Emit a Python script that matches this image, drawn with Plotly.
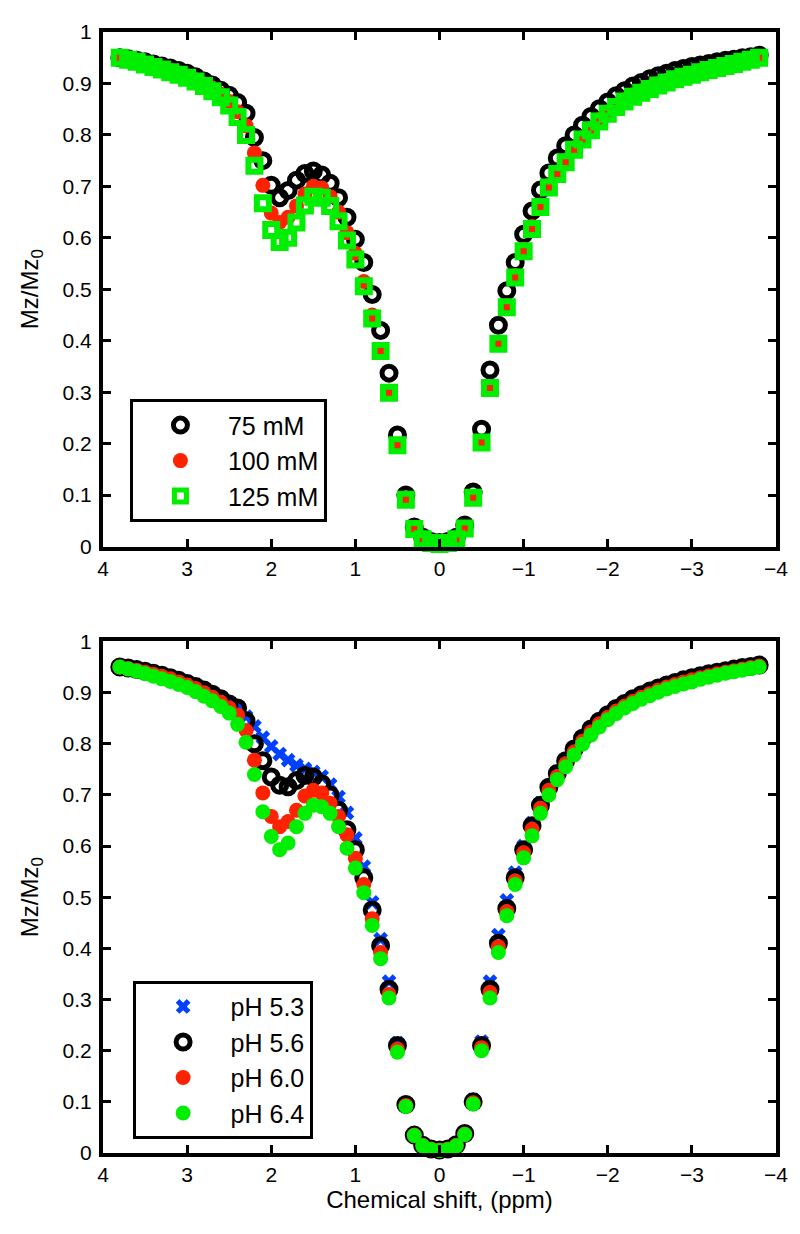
import plotly.graph_objects as go

# Chemical shift grid (ppm)
shift_ppm = [3.8, 3.7, 3.6, 3.5, 3.4, 3.3, 3.2, 3.1, 3.0, 2.9, 2.8, 2.7, 2.6, 2.5, 2.4, 2.3, 2.2, 2.1, 2.0, 1.9,
             1.8, 1.7, 1.6, 1.5, 1.4, 1.3, 1.2, 1.1, 1.0, 0.9, 0.8, 0.7, 0.6, 0.5, 0.4, 0.3, 0.2, 0.1, 0.0, -0.1,
             -0.2, -0.3, -0.4, -0.5, -0.6, -0.7, -0.8, -0.9, -1.0, -1.1, -1.2, -1.3, -1.4, -1.5, -1.6, -1.7, -1.8, -1.9,
             -2.0, -2.1, -2.2, -2.3, -2.4, -2.5, -2.6, -2.7, -2.8, -2.9, -3.0, -3.1, -3.2, -3.3, -3.4, -3.5, -3.6, -3.7, -3.8]

# Top panel: concentration series
mm75 = [.950, .948, .945, .942, .938, .934, .930, .925, .920, .913, .905, .897, .887, .877, .863, .842, .795, .750, .702, .678,
        .692, .712, .725, .730, .722, .706, .678, .640, .597, .552, .490, .420, .337, .217, .100, .038, .018, .010, .008, .010,
        .018, .042, .106, .228, .343, .430, .497, .552, .607, .652, .693, .726, .755, .779, .800, .819, .836, .851,
        .864, .876, .886, .895, .902, .909, .915, .920, .925, .929, .933, .936, .939, .942, .945, .947, .950, .952, .955]
mm100 = [.950, .947, .943, .939, .935, .930, .925, .920, .914, .907, .899, .890, .879, .865, .845, .818, .765, .702, .648, .630,
         .640, .662, .685, .700, .697, .680, .650, .610, .570, .515, .450, .383, .302, .199, .092, .035, .015, .008, .006, .008,
         .015, .036, .097, .204, .310, .397, .468, .527, .578, .622, .664, .702, .728, .751, .775, .795, .813, .830,
         .845, .858, .869, .878, .886, .893, .900, .906, .911, .916, .920, .925, .929, .933, .937, .941, .945, .948, .952]
mm125 = [.950, .946, .942, .937, .932, .927, .922, .917, .911, .904, .895, .885, .873, .857, .835, .800, .740, .667, .615, .592,
         .600, .630, .663, .680, .678, .662, .632, .595, .558, .506, .443, .380, .299, .197, .091, .034, .014, .007, .005, .007,
         .014, .035, .095, .202, .308, .394, .465, .523, .574, .617, .660, .698, .724, .747, .771, .791, .809, .826,
         .841, .854, .865, .874, .882, .889, .896, .902, .908, .913, .917, .922, .926, .930, .934, .938, .942, .946, .950]

# Bottom panel: pH series
ph53 = [.952, .949, .946, .943, .939, .935, .931, .926, .921, .915, .907, .899, .890, .880, .868, .853, .834, .812, .795, .780,
        .768, .758, .751, .745, .736, .720, .696, .665, .615, .560, .490, .418, .335, .215, .097, .037, .016, .009, .007, .009,
        .017, .040, .104, .218, .335, .426, .494, .548, .600, .645, .684, .718, .745, .769, .791, .812, .830, .845,
        .858, .870, .880, .889, .897, .904, .910, .916, .921, .926, .930, .934, .938, .941, .944, .947, .950, .952, .955]
ph56 = [.950, .948, .945, .942, .938, .934, .929, .924, .918, .912, .905, .897, .888, .878, .870, .845, .800, .767, .735, .719,
        .716, .728, .738, .735, .722, .700, .670, .632, .593, .538, .475, .405, .320, .210, .095, .035, .015, .008, .006, .008,
        .016, .038, .100, .210, .320, .410, .478, .538, .593, .640, .680, .715, .742, .767, .790, .811, .829, .844,
        .857, .869, .879, .888, .896, .903, .909, .915, .920, .925, .929, .933, .937, .940, .943, .946, .949, .951, .954]
ph60 = [.950, .947, .944, .940, .936, .932, .927, .921, .915, .908, .900, .891, .881, .870, .856, .826, .768, .704, .658, .638,
        .648, .670, .698, .709, .704, .684, .658, .622, .576, .525, .458, .392, .310, .203, .093, .035, .015, .008, .006, .008,
        .015, .037, .098, .206, .314, .403, .472, .532, .587, .633, .674, .709, .736, .761, .784, .805, .823, .839,
        .852, .864, .874, .883, .891, .898, .905, .911, .916, .921, .925, .929, .933, .937, .940, .943, .946, .949, .952]
ph64 = [.950, .946, .942, .937, .932, .927, .922, .916, .910, .902, .893, .884, .873, .860, .838, .803, .740, .667, .619, .593,
        .606, .638, .664, .680, .677, .664, .638, .596, .557, .509, .445, .380, .303, .197, .091, .034, .014, .007, .005, .007,
        .014, .036, .096, .200, .303, .392, .464, .525, .577, .620, .664, .700, .730, .755, .778, .799, .817, .833,
        .847, .859, .870, .879, .887, .894, .901, .907, .912, .917, .921, .926, .930, .934, .938, .941, .944, .947, .950]

top_names = ["75 mM", "100 mM", "125 mM"]
bottom_names = ["pH 5.3", "pH 5.6", "pH 6.0", "pH 6.4"]

FONT = "Liberation Sans, Arial, Helvetica, sans-serif"
BLACK = "#000000"
RED = "#FF2200"
GREEN = "#00EE00"
BLUE = "#0040FF"

black_ring = dict(symbol="circle-open", size=14, color=BLACK, line=dict(width=5, color=BLACK))
red_dot = dict(symbol="circle", size=15, color=RED, line=dict(width=0))
green_sq = dict(symbol="square-open", size=12, color=GREEN, line=dict(width=6, color=GREEN))
green_dot = dict(symbol="circle", size=15, color=GREEN, line=dict(width=0))
blue_x = dict(symbol="x", size=13, color=BLUE, line=dict(width=0))

fig = go.Figure()

for name, ys, mk, grp in [(top_names[0], mm75, black_ring, "a"),
                          (top_names[1], mm100, red_dot, "b"),
                          (top_names[2], mm125, green_sq, "c")]:
    fig.add_trace(go.Scatter(x=shift_ppm, y=ys, mode="markers", name=name, marker=mk,
                             xaxis="x", yaxis="y", legend="legend", legendgroup=grp, cliponaxis=False))

for name, ys, mk, grp in [(bottom_names[0], ph53, blue_x, "d"),
                          (bottom_names[1], ph56, black_ring, "e"),
                          (bottom_names[2], ph60, red_dot, "f"),
                          (bottom_names[3], ph64, green_dot, "g")]:
    fig.add_trace(go.Scatter(x=shift_ppm, y=ys, mode="markers", name=name, marker=mk,
                             xaxis="x2", yaxis="y2", legend="legend2", legendgroup=grp, cliponaxis=False))

tickfont = dict(family=FONT, size=21, color=BLACK)
titlefont = dict(family=FONT, size=24, color=BLACK)
axis_common = dict(showline=True, linecolor=BLACK, linewidth=4, mirror="ticks", ticks="inside",
                   ticklen=8, tickwidth=3, tickcolor=BLACK, showgrid=False, zeroline=False,
                   tickfont=tickfont)

xcommon = dict(axis_common, range=[4, -4], tickmode="linear", tick0=0, dtick=1)
ycommon = dict(axis_common, range=[0, 1], tickmode="linear", tick0=0, dtick=0.1, ticklabelstandoff=3)

legend_common = dict(bgcolor="white", bordercolor=BLACK, borderwidth=3,
                     font=dict(family=FONT, size=25, color=BLACK),
                     xanchor="left", yanchor="top", tracegroupgap=0, itemwidth=85,
                     traceorder="grouped")

# The page body adds an 8px offset, so the figure is 8px smaller than the window.
fig.update_layout(
    width=792, height=1226,
    margin=dict(l=95, r=21, t=13, b=81),
    paper_bgcolor="white", plot_bgcolor="white",
    showlegend=True,
    xaxis=dict(xcommon, anchor="y"),
    yaxis=dict(ycommon, domain=[0.541, 1.0], anchor="x",
               title=dict(text="Mz/Mz<sub>0</sub>", font=titlefont, standoff=18)),
    xaxis2=dict(xcommon, anchor="y2",
                title=dict(text="Chemical shift, (ppm)", font=titlefont, standoff=6)),
    yaxis2=dict(ycommon, domain=[0.0, 0.4563], anchor="x2",
                title=dict(text="Mz/Mz<sub>0</sub>", font=titlefont, standoff=18)),
    legend=dict(legend_common, x=0.040, y=0.6723),
    legend2=dict(legend_common, x=0.044, y=0.1537),
)

fig.write_html("out.html")
